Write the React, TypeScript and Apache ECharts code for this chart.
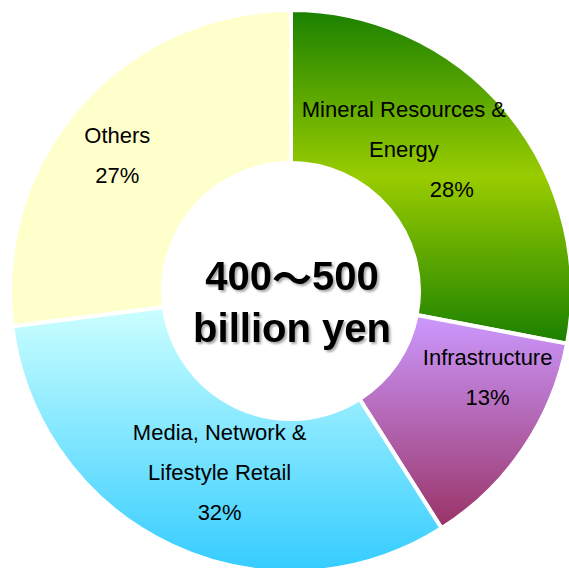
import React, { useEffect, useRef } from "react";
import * as echarts from "echarts";

const categories = [
  "Mineral Resources &\nEnergy",
  "Infrastructure",
  "Media, Network &\nLifestyle Retail",
  "Others",
];
const shares = [28, 13, 32, 27];
const rangeLow = "400";
const rangeHigh = "500";
const unitLine = "billion yen";

const FONT = '"Liberation Sans", Arial, Helvetica, sans-serif';

const sliceColors: any[] = [
  new echarts.graphic.LinearGradient(0, 0, 0, 1, [
    { offset: 0, color: "#1a8000" },
    { offset: 0.5, color: "#99cc00" },
    { offset: 1, color: "#1a8000" },
  ]),
  new echarts.graphic.LinearGradient(0, 0, 0, 1, [
    { offset: 0, color: "#cc99ff" },
    { offset: 1, color: "#993366" },
  ]),
  new echarts.graphic.LinearGradient(0, 0, 0, 1, [
    { offset: 0, color: "#ccffff" },
    { offset: 1, color: "#33ccff" },
  ]),
  "#ffffcc",
];

// label nudges from the default "inside" spot
const labelNudge = [
  [-47, -9],
  [25, -30],
  [17, -6],
  [-18, 2],
];

export default function App() {
  const ref = useRef<HTMLDivElement>(null);
  useEffect(() => {
    if (!ref.current) return;
    const chart = echarts.init(ref.current, null, { renderer: "svg" });
    const baseText = {
      fontFamily: FONT,
      fontSize: 22,
      lineHeight: 40,
      color: "#000",
    };
    const shadow = {
      textShadowColor: "rgba(0,0,0,0.35)",
      textShadowBlur: 2,
      textShadowOffsetX: 2,
      textShadowOffsetY: 2,
    };
    const bigText = {
      fontFamily: FONT,
      fontSize: 40,
      fontWeight: "bold",
      lineHeight: 52,
      fill: "#000",
      ...shadow,
    };
    chart.setOption({
      animation: false,
      backgroundColor: "#ffffff",
      graphic: [
        {
          type: "text",
          x: 292,
          y: 302,
          z: 10,
          style: {
            text: `{b|${rangeLow}}{t|～}{b|${rangeHigh}}\n{b|${unitLine}}`,
            ...bigText,
            align: "center",
            verticalAlign: "middle",
            rich: {
              b: { ...bigText },
              t: {
                ...bigText,
                fontFamily: '"Noto Sans CJK JP", "Noto Sans CJK SC", sans-serif',
                fontSize: 40,
              },
            },
          },
        },
      ],
      series: [
        {
          type: "pie",
          center: [291, 291],
          radius: [128, 281],
          startAngle: 90,
          clockwise: true,
          silent: true,
          avoidLabelOverlap: false,
          itemStyle: { borderColor: "#ffffff", borderWidth: 4 },
          label: {
            show: true,
            position: "inside",
            ...baseText,
            formatter: (p: any) =>
              `${p.name}\n{${p.dataIndex === 0 ? "shift" : "plain"}|${p.value}%}`,
            rich: {
              shift: { ...baseText, padding: [0, 0, 0, 96] },
              plain: { ...baseText },
            },
          },
          labelLine: { show: false },
          labelLayout: (params: any) => ({
            dx: labelNudge[params.dataIndex][0],
            dy: labelNudge[params.dataIndex][1],
          }),
          data: categories.map((name, i) => ({
            name,
            value: shares[i],
            itemStyle: { color: sliceColors[i] },
          })),
        },
      ],
    });
    return () => chart.dispose();
  }, []);
  return (
    <div
      ref={ref}
      style={{ position: "fixed", left: 0, top: 0, width: 569, height: 568 }}
    />
  );
}
